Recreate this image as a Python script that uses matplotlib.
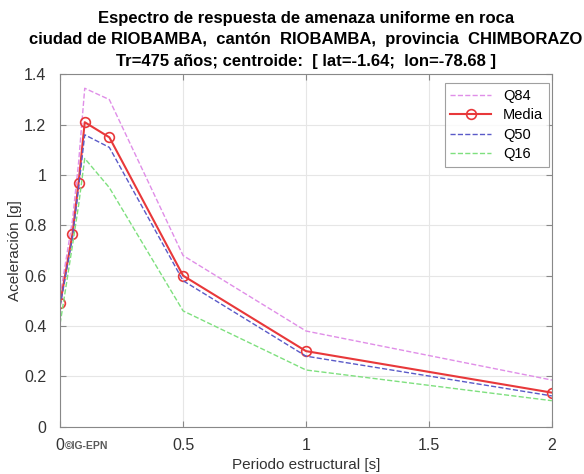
import numpy as np
import matplotlib.pyplot as plt

plt.rcParams['font.family'] = ['Liberation Sans', 'DejaVu Sans']

# Spectral periods [s] and accelerations [g]
periodo = [0.0, 0.05, 0.075, 0.1, 0.2, 0.5, 1.0, 2.0]
media = [0.49, 0.765, 0.97, 1.21, 1.15, 0.60, 0.30, 0.135]
q84 = [0.52, 0.82, 1.05, 1.345, 1.30, 0.68, 0.38, 0.185]
q50 = [0.48, 0.75, 0.95, 1.16, 1.11, 0.58, 0.28, 0.122]
q16 = [0.41, 0.72, 0.88, 1.066, 0.95, 0.46, 0.225, 0.103]

titulo = ('Espectro de respuesta de amenaza uniforme en roca\n'
          'ciudad de RIOBAMBA,  cantón  RIOBAMBA,  provincia  CHIMBORAZO\n'
          'Tr=475 años; centroide:  [ lat=-1.64;  lon=-78.68 ]')

fw, fh = 5.84, 4.74
fig = plt.figure(figsize=(fw, fh), dpi=100)
ax = fig.add_axes([0.103, 0.100, 0.842, 0.743])

ax.plot(periodo, q84, '--', color='#e08ee8', lw=1.0, label='Q84')
ax.plot(periodo, media, '-o', color='#e8383a', lw=1.5, ms=7, mfc='none',
        mec='#e8383a', mew=1.2, label='Media')
ax.plot(periodo, q50, '--', color='#5a5ac8', lw=1.0, label='Q50')
ax.plot(periodo, q16, '--', color='#7ee07e', lw=1.0, label='Q16')

ax.set_xlim(0, 2)
ax.set_ylim(0, 1.4)
ax.set_xticks([0, 0.5, 1, 1.5, 2])
ax.set_xticklabels(['0', '0.5', '1', '1.5', '2'])
ax.set_yticks(np.arange(0, 1.41, 0.2))
ax.set_yticklabels(['0', '0.2', '0.4', '0.6', '0.8', '1', '1.2', '1.4'])
ax.grid(True, color='#e6e6e6', lw=0.8)
ax.set_axisbelow(True)
for s in ax.spines.values():
    s.set_color('#888888')
ax.tick_params(direction='in', top=True, right=True, colors='#888888',
               labelcolor='#333333', labelsize=11.5, length=4)
ax.tick_params(axis='x', pad=8)
ax.tick_params(axis='y', pad=10)

ax.set_xlabel('Periodo estructural [s]', fontsize=11, color='#333333', labelpad=4)
ax.set_ylabel('Aceleración [g]', fontsize=11, color='#333333', labelpad=1)
ax.set_title(titulo, fontsize=12, fontweight='bold', linespacing=1.55, pad=6)

# copyright mark next to the zero tick
ax.text(0.018, -0.041, '©IG-EPN', fontsize=7.5, fontweight='bold',
        color='#5a5a5a', transform=ax.get_xaxis_transform(), va='top', ha='left')

leg = ax.legend(loc='upper right', bbox_to_anchor=(0.994, 0.976), fontsize=10.5,
                frameon=True, fancybox=False, edgecolor='#888888',
                handlelength=2.8, borderpad=0.4, labelspacing=0.38,
                borderaxespad=0)
leg.get_frame().set_linewidth(0.8)

plt.savefig('out.png', dpi=100)
